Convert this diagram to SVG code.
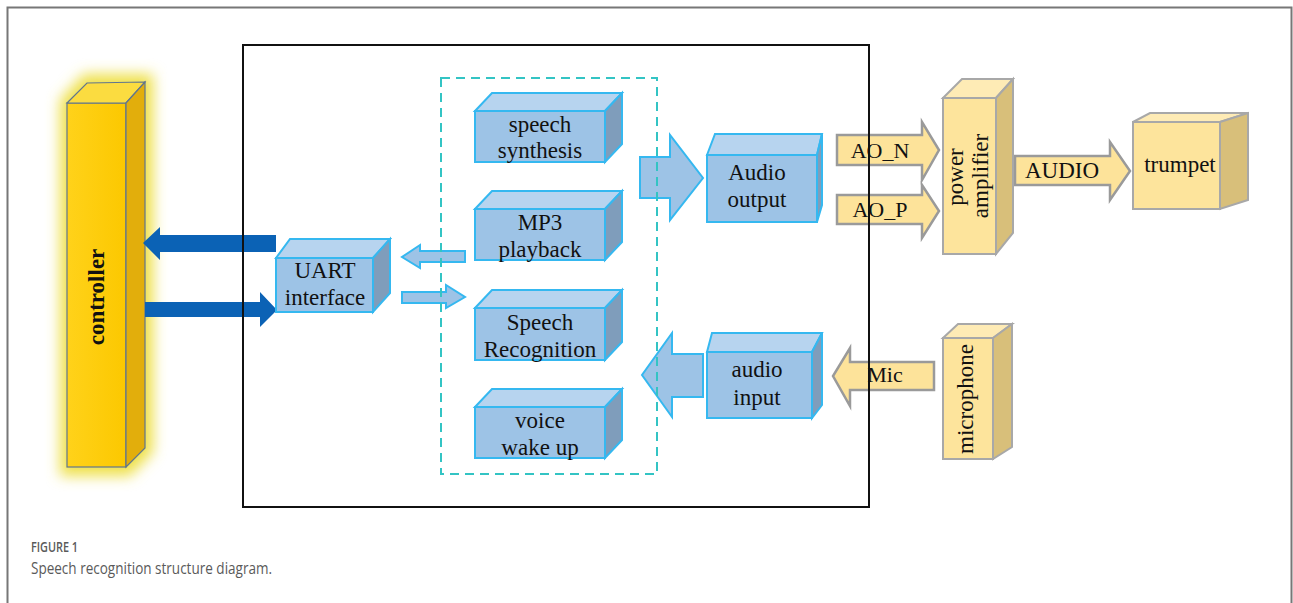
<svg xmlns="http://www.w3.org/2000/svg" width="1293" height="603" viewBox="0 0 1293 603">
<style>
.t{font-family:"Liberation Serif","Times New Roman",serif;font-size:23px;fill:#111;text-anchor:middle}
.bf{fill:#9dc3e6;stroke:#35b8f0;stroke-width:2}
.bt{fill:#b7d4ef;stroke:#35b8f0;stroke-width:2}
.br{fill:#7f9dbb;stroke:#35b8f0;stroke-width:2}
.yf{fill:#fde49c;stroke:#a8a8a8;stroke-width:2}
.yt{fill:#feebb5;stroke:#a8a8a8;stroke-width:2}
.yr{fill:#d8bf7a;stroke:#a8a8a8;stroke-width:2}
.ya{fill:#fde39a;stroke:#9a9a9a;stroke-width:2.5;stroke-linejoin:miter}
.ba{fill:#9dc3e6;stroke:#35b8f0;stroke-width:2}
.da{fill:#0b62b5}
</style>
<defs>
<filter id="glow" x="-60%" y="-20%" width="220%" height="140%"><feGaussianBlur stdDeviation="7"/></filter>
<linearGradient id="cg" x1="0" y1="0" x2="1" y2="0"><stop offset="0" stop-color="#ffd21a"/><stop offset="1" stop-color="#fcc800"/></linearGradient>
</defs>
<rect x="0" y="0" width="1293" height="603" fill="#fff"/>
<path d="M7.5 603 V7.5 H1291.5 V603" fill="none" stroke="#777" stroke-width="2"/>

<g id="controller">
<polygon points="60,100 84,74 153,74 153,452 130,476 60,476" fill="#eee04a" filter="url(#glow)"/>
<rect x="67" y="103" width="59" height="364" fill="url(#cg)" stroke="#5f7590" stroke-width="1.2"/>
<polygon points="67,103 87,83 145,82 126,103" fill="#fbdc40" stroke="#5f7590" stroke-width="1.2"/>
<polygon points="126,103 145,82 145,448 126,467" fill="#e2ae0c" stroke="#5f7590" stroke-width="1.2"/>
<text class="t" style="font-weight:bold" transform="translate(104,297) rotate(-90)">controller</text>
</g>

<g id="connectors">
<polygon class="da" points="276,235 160,235 160,227 143,243 160,260 160,252 276,252"/>
<polygon class="da" points="145,302 260,302 260,292 277,310 260,327 260,317 145,317"/>
<polygon class="ba" points="465,251 420,251 420,245 402,257 420,268 420,262 465,262"/>
<polygon class="ba" points="402,292 446,292 446,285 465,297 446,308 446,303 402,303"/>
<polygon class="ba" points="640,157 670,157 670,135 703,178 670,220 670,198 640,198"/>
<polygon class="ba" points="703,354 672,354 672,333 642,375 672,417 672,397 703,397"/>
<polygon class="ya" points="837,135 922,135 922,122 939,150 922,180 922,165 837,165"/>
<polygon class="ya" points="837,195 922,195 922,185 939,211 922,238 922,224 837,224"/>
<polygon class="ya" points="1015,156 1110,156 1110,142 1130,171 1110,200 1110,185 1015,185"/>
<polygon class="ya" points="934,362 850,362 850,348 833,376 850,406 850,390 934,390"/>
</g>

<rect id="chip" x="243" y="45" width="626" height="462" fill="none" stroke="#111" stroke-width="2"/>
<rect id="modules" x="441" y="78" width="216" height="396" fill="none" stroke="#33c4c4" stroke-width="2" stroke-dasharray="9,6"/>

<g id="labels">
<text class="t" x="880" y="158" style="font-size:22px">AO_N</text>
<text class="t" x="880" y="217" style="font-size:22px">AO_P</text>
<text class="t" x="1062" y="178">AUDIO</text>
<text class="t" x="885" y="382" style="font-size:22px">Mic</text>
</g>

<g id="uart">
<rect class="bf" x="276" y="258" width="97" height="54"/>
<polygon class="bt" points="276,258 290,239 390,239 373,258"/>
<polygon class="br" points="373,258 390,239 390,293 373,312"/>
<text class="t" x="325" y="278">UART</text>
<text class="t" x="325" y="305">interface</text>
</g>

<g id="speech-synthesis">
<rect class="bf" x="475" y="111" width="130" height="51"/>
<polygon class="bt" points="475,111 492,93 622,93 605,111"/>
<polygon class="br" points="605,111 622,93 622,144 605,162"/>
<text class="t" x="540" y="132">speech</text>
<text class="t" x="540" y="158">synthesis</text>
</g>

<g id="mp3-playback">
<rect class="bf" x="475" y="209" width="130" height="51"/>
<polygon class="bt" points="475,209 492,191 622,191 605,209"/>
<polygon class="br" points="605,209 622,191 622,242 605,260"/>
<text class="t" x="540" y="230">MP3</text>
<text class="t" x="540" y="257">playback</text>
</g>

<g id="speech-recognition">
<rect class="bf" x="475" y="308" width="130" height="52"/>
<polygon class="bt" points="475,308 492,290 622,290 605,308"/>
<polygon class="br" points="605,308 622,290 622,342 605,360"/>
<text class="t" x="540" y="330">Speech</text>
<text class="t" x="540" y="357">Recognition</text>
</g>

<g id="voice-wake-up">
<rect class="bf" x="475" y="407" width="130" height="51"/>
<polygon class="bt" points="475,407 492,389 622,389 605,407"/>
<polygon class="br" points="605,407 622,389 622,440 605,458"/>
<text class="t" x="540" y="428">voice</text>
<text class="t" x="540" y="455">wake up</text>
</g>

<g id="audio-output">
<rect class="bf" x="707" y="155" width="110" height="67"/>
<polygon class="bt" points="707,155 715,134 822,134 817,155"/>
<polygon class="br" points="817,155 822,134 822,205 817,222"/>
<text class="t" x="757" y="180">Audio</text>
<text class="t" x="757" y="207">output</text>
</g>

<g id="audio-input">
<rect class="bf" x="707" y="352" width="105" height="66"/>
<polygon class="bt" points="707,352 712,333 822,333 812,352"/>
<polygon class="br" points="812,352 822,333 822,405 812,418"/>
<text class="t" x="757" y="377">audio</text>
<text class="t" x="757" y="405">input</text>
</g>

<g id="power-amplifier">
<rect class="yf" x="943" y="98" width="53" height="156"/>
<polygon class="yt" points="943,98 962,79 1013,79 996,98"/>
<polygon class="yr" points="996,98 1013,79 1013,233 996,254"/>
<text class="t" transform="translate(963,177) rotate(-90)">power</text>
<text class="t" transform="translate(988,176) rotate(-90)">amplifier</text>
</g>

<g id="trumpet">
<rect class="yf" x="1133" y="122" width="87" height="87"/>
<polygon class="yt" points="1133,122 1150,113 1248,113 1220,122"/>
<polygon class="yr" points="1220,122 1248,113 1248,200 1220,209"/>
<text class="t" x="1180" y="172">trumpet</text>
</g>

<g id="microphone">
<rect class="yf" x="943" y="338" width="50" height="121"/>
<polygon class="yt" points="943,338 958,324 1012,324 993,338"/>
<polygon class="yr" points="993,338 1012,324 1012,447 993,459"/>
<text class="t" transform="translate(973,399) rotate(-90)">microphone</text>
</g>

<g id="caption" font-family="'Open Sans','Liberation Sans',sans-serif" fill="#5a5a5a">
<text x="31" y="552" font-size="14" font-weight="600" textLength="47" lengthAdjust="spacingAndGlyphs">FIGURE 1</text>
<text x="31" y="574" font-size="16" textLength="241" lengthAdjust="spacingAndGlyphs">Speech recognition structure diagram.</text>
</g>
</svg>
